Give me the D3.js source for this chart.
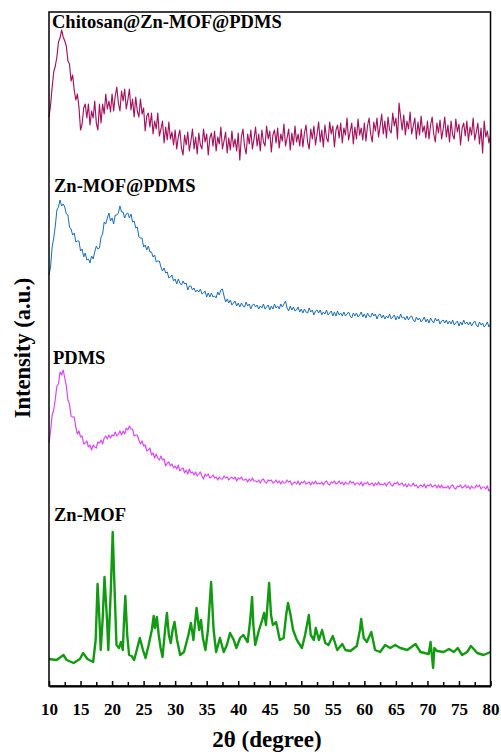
<!DOCTYPE html>
<html><head><meta charset="utf-8">
<script src="https://cdn.jsdelivr.net/npm/d3@7"></script>
<style>body{margin:0;background:#fff}svg text{font-family:"Liberation Serif","Times New Roman",serif;font-weight:bold;fill:#000}</style>
</head><body><svg id="c" width="501" height="756"></svg>
<script>
// ---------- data (intensity in arbitrary units, stacked offsets included) ----------
const seriesNames = ["Chitosan@Zn-MOF@PDMS", "Zn-MOF@PDMS", "PDMS", "Zn-MOF"];
const xTickValues = [10, 15, 20, 25, 30, 35, 40, 45, 50, 55, 60, 65, 70, 75, 80];
const xMinorTickValues = [12.5, 17.5, 22.5, 27.5, 32.5, 37.5, 42.5, 47.5, 52.5, 57.5, 62.5, 67.5, 72.5, 77.5];
const scanStart = 10;
const scanStep = 0.25;
const chitosanIntensity = [
569,581,599,614,620,629,644,648,656,649,645,640,625,622,605,611,596,586,592,579,
556,562,578,582,568,582,561,575,568,585,563,556,582,563,582,572,592,577,585,574,
592,575,590,599,583,575,595,585,597,577,586,597,576,587,569,589,575,569,587,572,
578,555,570,573,559,573,552,565,557,573,550,557,565,543,559,546,564,547,554,541,
556,537,549,556,538,531,551,541,554,535,545,557,537,549,532,553,541,537,557,544,
552,531,548,553,540,555,535,549,542,559,537,545,554,533,548,536,555,539,547,535,
553,526,549,557,540,532,552,542,556,537,547,559,540,552,535,556,544,540,560,547,
555,534,551,556,543,558,538,552,545,562,540,548,557,536,553,541,560,544,552,540,
557,539,553,561,544,537,557,547,560,541,552,564,544,556,539,561,548,544,564,552,
560,539,556,561,548,563,543,558,551,568,546,554,563,542,559,547,567,551,558,546,
563,545,560,568,552,544,564,555,568,549,560,572,552,565,548,569,556,553,573,560,
568,547,583,569,556,571,551,565,557,574,552,560,568,547,564,551,570,554,560,548,
565,547,561,569,552,544,563,553,566,547,557,569,549,561,544,565,551,547,567,554,
562,541,558,563,550,565,545,559,551,568,546,554,563,542,558,533,565,549,555,543,
551];
const znMofPdmsIntensity = [
411,419,439,448,460,476,479,486,480,482,479,472,471,459,457,451,453,444,445,445,
435,437,429,433,426,427,423,430,427,434,440,437,438,449,452,464,462,468,473,465,
468,462,471,471,473,480,474,474,468,472,473,468,472,464,465,458,459,449,448,448,
439,441,436,440,434,434,429,431,424,425,425,419,415,418,413,414,408,409,411,405,
407,402,407,403,401,405,402,403,396,400,400,396,398,394,396,394,397,392,393,395,
389,393,389,393,389,390,388,394,391,396,397,390,384,387,383,386,381,383,385,380,
383,379,383,380,379,384,380,382,377,381,382,379,381,377,380,378,382,377,379,381,
376,380,377,382,378,380,377,382,379,382,385,378,375,380,376,379,375,376,379,374,
377,373,377,374,373,378,374,376,371,375,376,373,376,371,374,372,376,371,373,375,
370,374,370,375,371,373,370,374,370,372,374,370,368,373,370,373,369,371,374,369,
372,368,373,370,369,373,370,372,367,371,372,368,371,367,370,368,372,367,369,371,
366,370,367,372,368,369,366,370,366,369,370,366,364,369,366,368,364,366,369,364,
367,363,368,365,363,368,365,367,362,365,366,363,366,362,365,362,366,361,363,365,
360,364,361,366,362,364,361,364,360,363,365,361,359,364,361,363,359,361,364,359,
362];
const pdmsIntensity = [
243,255,271,276,287,300,302,314,311,316,308,300,286,282,270,269,269,259,252,255,
249,250,242,243,245,239,241,236,241,239,238,244,243,246,242,248,250,247,251,248,
251,250,254,250,252,255,251,255,252,258,256,260,257,257,250,251,251,246,242,245,
240,241,235,236,238,231,233,228,232,228,226,230,226,227,220,223,224,220,222,218,
220,217,221,215,217,218,213,216,212,217,213,214,211,214,210,212,214,210,207,212,
210,212,208,209,211,208,209,206,209,207,207,210,208,209,206,208,209,207,209,205,
208,207,209,206,206,207,204,207,205,208,205,205,204,206,203,206,207,204,203,206,
205,206,203,204,206,203,205,202,205,203,203,206,204,205,201,203,204,202,205,201,
204,203,205,202,203,204,201,204,202,205,202,203,202,204,201,204,205,202,201,204,
203,205,202,203,205,202,204,201,204,202,202,205,203,204,201,203,203,201,204,200,
203,202,204,201,202,203,200,203,201,204,201,202,201,203,200,203,204,201,200,203,
202,204,201,202,203,200,202,199,202,200,200,203,200,201,198,200,201,199,202,198,
201,200,202,199,200,201,198,201,198,201,198,199,198,200,197,200,201,198,197,200,
199,201,198,199,201,198,200,197,200,198,198,201,199,201,197,199,199,197,200,195,
197];
const znMofAngles = [
10.0,11.2,12.3,12.8,13.9,14.9,15.4,16.1,17.0,17.4,17.7,18.0,18.2,18.5,18.8,19.2,19.4,19.8,20.1,20.4,
20.7,21.1,21.4,21.7,21.9,22.1,22.4,22.7,23.1,23.5,24.0,24.4,24.9,25.3,25.8,26.3,26.6,26.8,27.1,27.4,
27.7,28.0,28.4,28.7,29.0,29.3,29.6,29.9,30.3,30.8,31.4,32.1,32.5,32.9,33.2,33.4,33.8,34.1,34.4,34.8,
35.2,35.7,36.1,36.5,37.1,37.7,38.2,38.7,39.3,39.7,40.3,40.8,41.5,41.9,42.2,42.4,42.7,43.3,43.8,44.1,
44.4,44.9,45.2,45.5,46.0,46.6,47.2,47.6,47.9,48.3,48.7,49.3,50.1,50.6,51.2,51.5,52.0,52.3,52.8,53.3,
53.8,54.3,55.0,55.7,56.5,57.0,57.8,58.8,59.3,59.5,59.9,60.4,61.1,61.7,62.5,63.3,64.1,64.9,65.7,66.8,
68.1,68.9,70.2,70.5,70.7,70.9,71.1,71.5,72.6,73.4,74.2,74.8,75.5,76.3,76.9,77.9,78.9,80.0];
const znMofIntensity = [
27,26,31,26,23,27,33,27,24,46,102,66,36,66,109,66,36,96,154,96,
41,38,44,36,66,90,51,31,30,26,38,48,36,28,41,56,70,58,69,51,
38,29,56,73,51,43,56,64,46,31,34,51,63,46,66,78,56,66,48,36,
56,104,56,34,48,34,41,53,46,38,48,51,44,66,89,61,41,56,66,73,
61,103,71,61,64,46,48,71,83,71,56,46,38,51,71,51,46,58,46,56,
43,41,50,36,42,36,35,40,56,67,48,44,54,36,34,41,38,41,38,36,
42,34,32,44,31,18,38,35,34,37,34,38,31,34,40,33,31,34];

// ---------- layout ----------
const svg = d3.select("#c");
const mLeft = 49, mRight = 490.5, mTop = 12, mBottom = 686;
const x = d3.scaleLinear().domain([10, 80]).range([mLeft, mRight]);
const y = d3.scaleLinear().domain([0, 674]).range([mBottom, mTop]);

const stepped = arr => arr.map((v, i) => [scanStart + i * scanStep, v]);
const series = [
  {name: seriesNames[0], color: "#a3135d", width: 1.15, pts: stepped(chitosanIntensity)},
  {name: seriesNames[1], color: "#1b6db4", width: 1, pts: stepped(znMofPdmsIntensity)},
  {name: seriesNames[2], color: "#d848f2", width: 1.2, pts: stepped(pdmsIntensity)},
  {name: seriesNames[3], color: "#139a13", width: 2.4, pts: znMofAngles.map((a, i) => [a, znMofIntensity[i]])}
];

const line = d3.line().x(d => x(d[0])).y(d => y(d[1]));
series.forEach(s => {
  svg.append("path").attr("d", line(s.pts)).attr("fill", "none")
    .attr("stroke", s.color).attr("stroke-width", s.width).attr("stroke-linejoin", "round");
});

// frame
svg.append("rect").attr("x", mLeft).attr("y", mTop).attr("width", mRight - mLeft).attr("height", mBottom - mTop)
  .attr("fill", "none").attr("stroke", "#000").attr("stroke-width", 1.5);

// x axis (ticks inward)
const xAxis = d3.axisBottom(x).tickValues(xTickValues).tickSizeInner(-5).tickSizeOuter(0).tickPadding(10);
const gx = svg.append("g").attr("transform", `translate(0,${mBottom})`).call(xAxis);
gx.select(".domain").attr("stroke-width", 1.8);
gx.selectAll(".tick line").attr("stroke-width", 1.5);
gx.selectAll(".tick text").attr("font-size", 17).attr("font-family", "Liberation Serif").attr("font-weight", "bold").attr("fill", "#000").attr("dy", "0.71em").attr("y", 17);
const gxm = svg.append("g").attr("transform", `translate(0,${mBottom})`)
  .call(d3.axisBottom(x).tickValues(xMinorTickValues).tickSizeInner(-4).tickSizeOuter(0).tickFormat(""));
gxm.select(".domain").remove();
gxm.selectAll(".tick line").attr("stroke-width", 1.5);

// labels
const labelPos = [[52, 27.5], [54, 191.5], [53, 364], [54, 521]];
series.forEach((s, i) => {
  svg.append("text").attr("x", labelPos[i][0]).attr("y", labelPos[i][1]).attr("font-size", 18.5).text(s.name);
});

svg.append("text").attr("x", 267).attr("y", 747).attr("text-anchor", "middle").attr("font-size", 23).text("2θ (degree)");
svg.append("text").attr("transform", "translate(30,348) rotate(-90)").attr("text-anchor", "middle").attr("font-size", 22.5).text("Intensity (a.u.)");
</script></body></html>
